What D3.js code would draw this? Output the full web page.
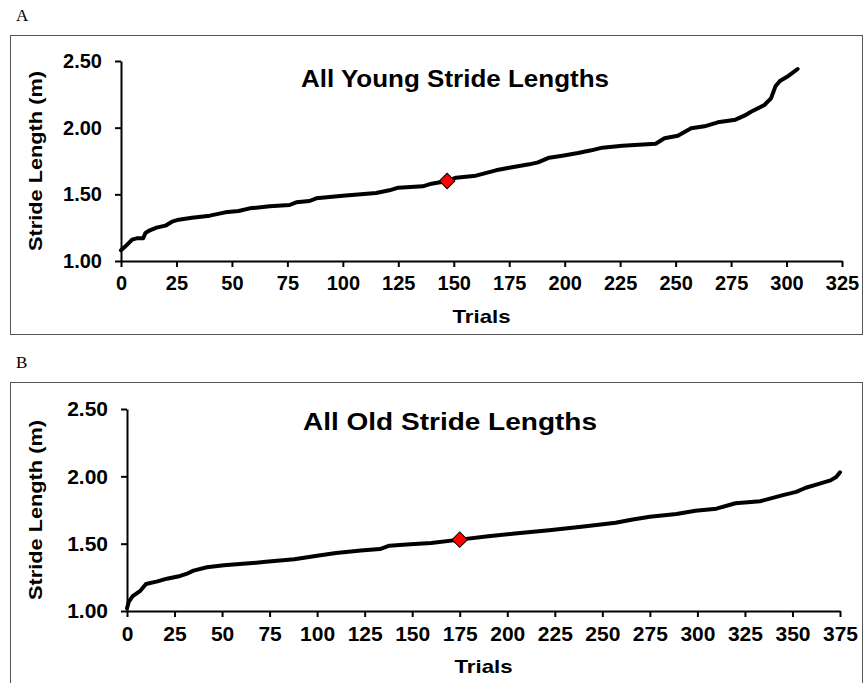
<!DOCTYPE html>
<html>
<head>
<meta charset="utf-8">
<title>Stride Lengths</title>
<script src="https://cdn.jsdelivr.net/npm/d3@7"></script>
<style>
  body { margin: 0; background: #fff; }
  .frame { fill: none; stroke: #555; stroke-width: 1px; }
  .axis path, .axis line { stroke: #000; stroke-width: 2px; }
  .axis text { font-family: "Liberation Sans", Arial, sans-serif; font-weight: bold; fill: #000; }
  .curve { fill: none; stroke: #000; stroke-width: 4px; stroke-linejoin: round; stroke-linecap: round; }
  .median { fill: #f00; stroke: #000; stroke-width: 1px; }
  .title, .label { font-family: "Liberation Sans", Arial, sans-serif; font-weight: bold; fill: #000; }
  .panel-id { font-family: "Liberation Serif", "Times New Roman", serif; font-size: 17px; }
</style>
</head>
<body>
<svg width="864" height="683"></svg>
<script>
// sorted stride lengths: [trial, length in m]
var youngCurve = [[0,1.08],[2,1.11],[5,1.16],[7,1.17],[10,1.17],[11,1.21],[13,1.23],[16,1.25],
  [20,1.265],[23,1.295],[26,1.31],[32,1.325],[40,1.34],[47,1.365],[53,1.375],[58,1.395],
  [67,1.41],[76,1.42],[79,1.44],[85,1.45],[88,1.47],[100,1.49],[115,1.51],[121,1.53],
  [125,1.55],[136,1.56],[140,1.58],[147,1.60],[151,1.625],[160,1.64],[169,1.68],[175,1.70],
  [184,1.725],[188,1.74],[193,1.775],[199,1.79],[206,1.81],[212,1.83],[217,1.85],[226,1.865],
  [241,1.88],[245,1.92],[251,1.94],[257,1.995],[263,2.01],[269,2.04],[277,2.06],[281,2.09],
  [284,2.12],[290,2.17],[293,2.22],[295,2.31],[297,2.35],[301,2.39],[305,2.44]]
var oldCurve = [[0,1.02],[1,1.07],[3,1.11],[7,1.15],[10,1.20],[16,1.22],[21,1.24],[28,1.26],
  [32,1.28],[35,1.30],[42,1.325],[51,1.34],[61,1.35],[73,1.365],[88,1.385],[100,1.41],
  [110,1.43],[123,1.45],[133,1.46],[138,1.485],[149,1.495],[160,1.505],[175,1.53],[190,1.555],
  [204,1.575],[222,1.60],[239,1.625],[257,1.655],[266,1.68],[275,1.70],[289,1.72],[299,1.745],
  [310,1.76],[320,1.80],[333,1.815],[345,1.86],[352,1.885],[357,1.915],[363,1.94],[370,1.97],
  [373,1.995],[375,2.03]]
var youngMedian = [147, 1.60]
var oldMedian = [175, 1.53]

var yTicks = [1.00, 1.50, 2.00, 2.50]
var youngXTicks = d3.range(0, 326, 25)
var oldXTicks = d3.range(0, 376, 25)

var svg = d3.select('svg')

function drawPanel(p) {
  var g = svg.append('g')

  g.append('rect').classed('frame', true)
    .attr('x', 10.5).attr('y', p.frameTop + 0.5)
    .attr('width', 852).attr('height', p.frameH)

  g.append('text').classed('panel-id', true)
    .attr('x', 16).attr('y', p.frameTop - 14)
    .text(p.id)

  var x = d3.scaleLinear().domain([0, p.xMax]).range([p.x0, p.x1])
  var y = d3.scaleLinear().domain([1, 2.5]).range([p.y0, p.y1])

  var xAxis = g.append('g').classed('axis', true)
    .attr('transform', 'translate(0,' + p.y0 + ')')
    .call(d3.axisBottom(x).tickValues(p.xTicks).tickSize(6).tickSizeOuter(0).tickPadding(9))
  xAxis.selectAll('text').style('font-size', p.fs + 'px')

  var yAxis = g.append('g').classed('axis', true)
    .attr('transform', 'translate(' + p.x0 + ',0)')
    .call(d3.axisLeft(y).tickValues(yTicks).tickFormat(d3.format('.2f'))
      .tickSize(6).tickSizeOuter(0).tickPadding(13))
  yAxis.selectAll('text').style('font-size', p.fs + 'px')

  g.append('path').datum(p.curve).classed('curve', true)
    .attr('d', d3.line().x(function(d) { return x(d[0]) }).y(function(d) { return y(d[1]) }))

  g.append('path').classed('median', true)
    .attr('d', d3.symbol(d3.symbolSquare, 120)())
    .attr('transform', 'translate(' + x(p.median[0]) + ',' + y(p.median[1]) + ') rotate(45)')

  g.append('text').classed('title', true)
    .attr('x', p.titleX).attr('y', y(2.5) + p.titleDy)
    .attr('text-anchor', 'middle').style('font-size', '23px')
    .attr('textLength', p.titleW).attr('lengthAdjust', 'spacingAndGlyphs')
    .text(p.title)

  g.append('text').classed('label', true)
    .attr('transform', 'translate(42,' + (p.y0 + p.y1) / 2 + ') rotate(-90)')
    .attr('text-anchor', 'middle').style('font-size', '19px')
    .attr('textLength', 180).attr('lengthAdjust', 'spacingAndGlyphs')
    .text('Stride Length (m)')

  g.append('text').classed('label', true)
    .attr('x', (p.x0 + p.x1) / 2).attr('y', p.y0 + p.trialsDy)
    .attr('text-anchor', 'middle').style('font-size', '19px')
    .attr('textLength', 58).attr('lengthAdjust', 'spacingAndGlyphs')
    .text('Trials')
}

drawPanel({ id: 'A', frameTop: 35, frameH: 299, x0: 121, x1: 842, y0: 261, y1: 61,
  xMax: 325, xTicks: youngXTicks, curve: youngCurve, median: youngMedian, fs: 20,
  title: 'All Young Stride Lengths', titleX: 455, titleW: 308, titleDy: 26, trialsDy: 62 })

drawPanel({ id: 'B', frameTop: 382, frameH: 320, x0: 127, x1: 840, y0: 611, y1: 409,
  xMax: 375, xTicks: oldXTicks, curve: oldCurve, median: oldMedian, fs: 21,
  title: 'All Old Stride Lengths', titleX: 450, titleW: 294, titleDy: 21, trialsDy: 62 })
</script>
</body>
</html>
